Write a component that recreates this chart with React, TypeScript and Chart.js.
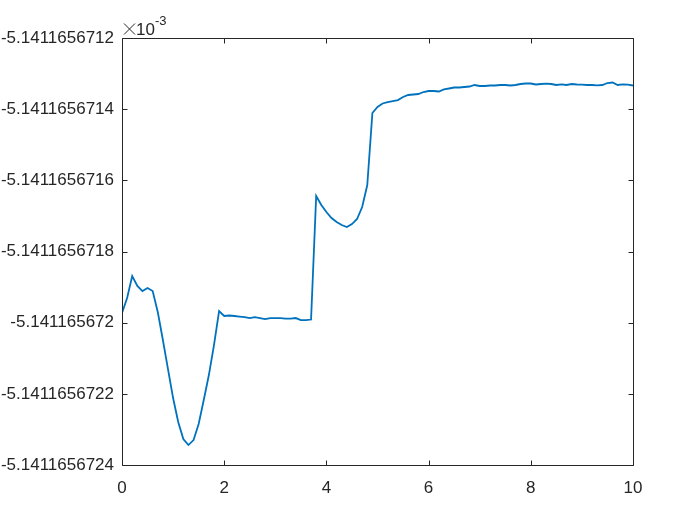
import React, { useEffect, useRef } from "react";
import { Chart, registerables } from "chart.js";

Chart.register(...registerables);

const xValues = [
  0, 0.1, 0.2, 0.3, 0.4, 0.5, 0.6, 0.7, 0.8, 0.9,
  1, 1.1, 1.2, 1.3, 1.4, 1.5, 1.6, 1.7, 1.8, 1.9,
  2, 2.1, 2.2, 2.3, 2.4, 2.5, 2.6, 2.7, 2.8, 2.9,
  3, 3.1, 3.2, 3.3, 3.4, 3.5, 3.6, 3.7, 3.8, 3.9,
  4, 4.1, 4.2, 4.3, 4.4, 4.5, 4.6, 4.7, 4.8, 4.9,
  5, 5.1, 5.2, 5.3, 5.4, 5.5, 5.6, 5.7, 5.8, 5.9,
  6, 6.1, 6.2, 6.3, 6.4, 6.5, 6.6, 6.7, 6.8, 6.9,
  7, 7.1, 7.2, 7.3, 7.4, 7.5, 7.6, 7.7, 7.8, 7.9,
  8, 8.1, 8.2, 8.3, 8.4, 8.5, 8.6, 8.7, 8.8, 8.9,
  9, 9.1, 9.2, 9.3, 9.4, 9.5, 9.6, 9.7, 9.8, 9.9,
  10,
];

const yValues = [
  -5.1411656719729, -5.1411656719308, -5.1411656718689, -5.141165671897, -5.1411656719111,
  -5.1411656719027, -5.1411656719111, -5.1411656719701, -5.1411656720488, -5.1411656721303,
  -5.1411656722118, -5.1411656722793, -5.1411656723271, -5.1411656723439, -5.1411656723299,
  -5.1411656722849, -5.1411656722174, -5.1411656721472, -5.1411656720629, -5.1411656719673,
  -5.1411656719813, -5.1411656719799, -5.1411656719813, -5.1411656719828, -5.1411656719842,
  -5.141165671987, -5.1411656719842, -5.141165671987, -5.1411656719898, -5.141165671987,
  -5.141165671987, -5.141165671987, -5.1411656719884, -5.1411656719884, -5.141165671987,
  -5.1411656719926, -5.1411656719926, -5.1411656719912, -5.1411656716441, -5.1411656716694,
  -5.141165671689, -5.1411656717059, -5.1411656717172, -5.1411656717256, -5.1411656717312,
  -5.1411656717228, -5.1411656717087, -5.141165671675, -5.1411656716132, -5.1411656714108,
  -5.1411656713939, -5.1411656713841, -5.1411656713799, -5.1411656713771, -5.1411656713743,
  -5.1411656713658, -5.1411656713602, -5.1411656713588, -5.1411656713574, -5.1411656713518,
  -5.141165671349, -5.141165671349, -5.1411656713504, -5.1411656713447, -5.1411656713419,
  -5.1411656713391, -5.1411656713391, -5.1411656713377, -5.1411656713363, -5.1411656713321,
  -5.1411656713349, -5.1411656713349, -5.1411656713335, -5.1411656713335, -5.1411656713321,
  -5.1411656713321, -5.1411656713335, -5.1411656713321, -5.1411656713293, -5.1411656713279,
  -5.1411656713279, -5.1411656713307, -5.1411656713293, -5.1411656713284, -5.1411656713293,
  -5.1411656713321, -5.1411656713301, -5.1411656713321, -5.1411656713293, -5.1411656713307,
  -5.1411656713313, -5.1411656713321, -5.1411656713321, -5.1411656713329, -5.1411656713321,
  -5.1411656713265, -5.1411656713251, -5.1411656713321, -5.1411656713301, -5.1411656713313,
  -5.1411656713335,
];

const yTickValues = [
  -5.1411656724, -5.1411656722, -5.141165672, -5.1411656718, -5.1411656716, -5.1411656714, -5.1411656712,
];
const yTickLabels = [
  "-5.1411656724", "-5.1411656722", "-5.141165672", "-5.1411656718", "-5.1411656716", "-5.1411656714", "-5.1411656712",
];
const xTickValues = [0, 2, 4, 6, 8, 10];
const xTickLabels = ["0", "2", "4", "6", "8", "10"];
const exponentBase = "10";
const exponentPower = "-3";

const FONT = "'Liberation Sans', Arial, Helvetica, sans-serif";
const AXIS_COLOR = "#262626";
const LINE_COLOR = "#0072BD";

const boxPlugin = {
  id: "matlabBox",
  afterDraw(chart: any) {
    const { ctx, chartArea } = chart;
    const { left, right, top, bottom } = chartArea;
    const xs = chart.scales.x;
    const ys = chart.scales.y;
    ctx.save();
    ctx.strokeStyle = AXIS_COLOR;
    ctx.lineWidth = 1;
    const L = Math.round(left) + 0.5;
    const R = Math.round(right) + 0.5;
    const T = Math.round(top) + 0.5;
    const B = Math.round(bottom) + 0.5;
    ctx.beginPath();
    ctx.rect(L, T, R - L, B - T);
    ctx.stroke();
    const tl = 5;
    ctx.beginPath();
    xTickValues.forEach((v) => {
      const px = Math.round(xs.getPixelForValue(v)) + 0.5;
      ctx.moveTo(px, B);
      ctx.lineTo(px, B - tl);
      ctx.moveTo(px, T);
      ctx.lineTo(px, T + tl);
    });
    yTickValues.forEach((v) => {
      const py = Math.round(ys.getPixelForValue(v)) + 0.5;
      ctx.moveTo(L, py);
      ctx.lineTo(L + tl, py);
      ctx.moveTo(R, py);
      ctx.lineTo(R - tl, py);
    });
    ctx.stroke();
    // exponent label: thin "×" cross, then 10, then superscript power
    const baseY = top - 3;
    const cx = left + 7.5;
    const cy = top - 9;
    ctx.lineWidth = 1;
    ctx.beginPath();
    ctx.moveTo(cx - 5.5, cy - 5.5);
    ctx.lineTo(cx + 5.5, cy + 5.5);
    ctx.moveTo(cx + 5.5, cy - 5.5);
    ctx.lineTo(cx - 5.5, cy + 5.5);
    ctx.stroke();
    ctx.fillStyle = AXIS_COLOR;
    ctx.textBaseline = "alphabetic";
    ctx.textAlign = "left";
    ctx.font = `17px ${FONT}`;
    const tx = left + 14;
    ctx.fillText(exponentBase, tx, baseY);
    const w = ctx.measureText(exponentBase).width;
    ctx.font = `13px ${FONT}`;
    ctx.fillText(exponentPower, tx + w, baseY - 10);
    ctx.restore();
  },
};

export default function App() {
  const ref = useRef<HTMLCanvasElement>(null);
  useEffect(() => {
    document.body.style.margin = "0";
    const canvas = ref.current;
    if (!canvas) return;
    const chart = new Chart(canvas, {
      type: "line",
      data: {
        datasets: [
          {
            data: xValues.map((x, i) => ({ x, y: yValues[i] })),
            borderColor: LINE_COLOR,
            borderWidth: 1.8,
            pointRadius: 0,
            fill: false,
            tension: 0,
          },
        ],
      },
      options: {
        responsive: false,
        animation: false,
        events: [],
        layout: { padding: { top: 38, right: 67, bottom: 0, left: 0 } },
        plugins: { legend: { display: false }, tooltip: { enabled: false } },
        scales: {
          x: {
            type: "linear",
            min: 0,
            max: 10,
            grid: { display: false, drawTicks: false },
            border: { display: false },
            afterFit: (s: any) => {
              s.height = 60;
            },
            afterBuildTicks: (s: any) => {
              s.ticks = xTickValues.map((v) => ({ value: v }));
            },
            ticks: {
              autoSkip: false,
              maxRotation: 0,
              padding: 13,
              color: AXIS_COLOR,
              font: { family: FONT, size: 17 },
              callback: (_v: any, i: number) => xTickLabels[i],
            },
          },
          y: {
            type: "linear",
            min: yTickValues[0],
            max: yTickValues[yTickValues.length - 1],
            grid: { display: false, drawTicks: false },
            border: { display: false },
            afterFit: (s: any) => {
              s.width = 122;
            },
            afterBuildTicks: (s: any) => {
              s.ticks = yTickValues.map((v) => ({ value: v }));
            },
            ticks: {
              autoSkip: false,
              padding: 8,
              color: AXIS_COLOR,
              font: { family: FONT, size: 17 },
              callback: (_v: any, i: number) => yTickLabels[i],
            },
          },
        },
      },
      plugins: [boxPlugin],
    } as any);
    return () => chart.destroy();
  }, []);
  return (
    <div style={{ width: 700, height: 525, background: "#fff" }}>
      <canvas ref={ref} width={700} height={525} style={{ display: "block" }} />
    </div>
  );
}
